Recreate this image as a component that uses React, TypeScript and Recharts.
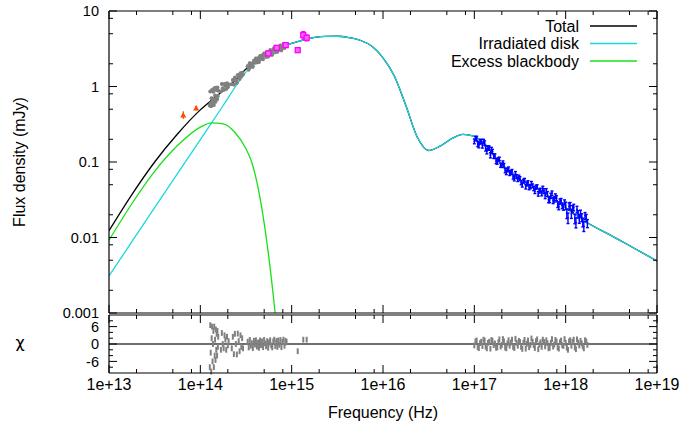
import React from 'react';
import { ComposedChart, Line, Scatter, XAxis, YAxis, ErrorBar, ReferenceLine } from 'recharts';

const FONT = '"Liberation Sans", Arial, Helvetica, sans-serif';
const FS = 16;

// axis ticks
const xMajor = [1e13, 1e14, 1e15, 1e16, 1e17, 1e18, 1e19];
const xLabels = ['1e+13', '1e+14', '1e+15', '1e+16', '1e+17', '1e+18', '1e+19'];
const xMinor = [2e13, 5e13, 8e13, 2e14, 5e14, 8e14, 2e15, 5e15, 8e15, 2e16, 5e16, 8e16, 2e17, 5e17, 8e17, 2e18, 5e18, 8e18];
const yMajor = [0.001, 0.01, 0.1, 1, 10];
const yLabels = ['0.001', '0.01', '0.1', '1', '10'];
const yMinor = [0.002, 0.005, 0.008, 0.02, 0.05, 0.08, 0.2, 0.5, 0.8, 2, 5, 8];
const chiMajor = [-6, 0, 6];
const chiLabels = ['-6', '0', '6'];
const chiMinor = [-8, -4, -2, 2, 4, 8];

// model: total
const totalFreq = [1e13, 1.78e13, 3.16e13, 5.62e13, 1e14, 1.33e14, 1.78e14, 2.37e14, 3.16e14, 4.22e14, 5.62e14, 7.5e14, 1e15, 1.33e15, 1.78e15, 2.37e15, 3.16e15, 4.22e15, 5.62e15, 7.5e15, 1e16, 1.33e16, 1.78e16, 2.37e16, 3.16e16, 4.22e16, 5.62e16, 7.5e16, 1e17, 1.33e17, 1.78e17, 2.37e17, 3.16e17, 5.62e17, 1e18, 1.78e18, 3.16e18, 5.62e18, 1e19];
const totalFlux = [0.0123, 0.037, 0.1, 0.235, 0.49, 0.66, 0.88, 1.18, 1.7, 2.25, 2.78, 3.25, 3.72, 4.12, 4.47, 4.62, 4.63, 4.45, 4.1, 3.43, 2.4, 1.38, 0.56, 0.214, 0.142, 0.162, 0.203, 0.232, 0.218, 0.168, 0.107, 0.076, 0.0575, 0.0398, 0.0248, 0.0153, 0.0106, 0.0072, 0.0049];

// model: irradiated disk
const diskFreq = [1e13, 1.78e13, 3.16e13, 5.62e13, 1e14, 1.78e14, 3.16e14, 4.22e14, 5.62e14, 7.5e14, 1e15, 1.33e15, 1.78e15, 2.37e15, 3.16e15, 4.22e15, 5.62e15, 7.5e15, 1e16, 1.33e16, 1.78e16, 2.37e16, 3.16e16, 4.22e16, 5.62e16, 7.5e16, 1e17, 1.33e17, 1.78e17, 2.37e17, 3.16e17, 5.62e17, 1e18, 1.78e18, 3.16e18, 5.62e18, 1e19];
const diskFlux = [0.0031, 0.0088, 0.0248, 0.07, 0.198, 0.56, 1.55, 2.15, 2.75, 3.25, 3.72, 4.12, 4.47, 4.62, 4.63, 4.45, 4.1, 3.43, 2.4, 1.38, 0.56, 0.214, 0.142, 0.162, 0.203, 0.232, 0.218, 0.168, 0.107, 0.076, 0.0575, 0.0398, 0.0248, 0.0153, 0.0106, 0.0072, 0.0049];

// model: excess blackbody
const bbFreq = [1e13, 1.78e13, 3.16e13, 5.62e13, 1e14, 1.33e14, 1.78e14, 2.37e14, 3.16e14, 3.65e14, 4.22e14, 4.87e14, 5.62e14, 6.49e14, 7.5e14];
const bbFlux = [0.0092, 0.028, 0.075, 0.165, 0.29, 0.33, 0.32, 0.25, 0.15, 0.1, 0.05, 0.019, 0.0055, 0.0012, 0.0002];

// near-IR photometry (red)
const nirFreq = [6.5e13, 9.0e13];
const nirFlux = [0.42, 0.52];
const nirErr = [0.05, 0.035];

// optical / IR spectra (grey)
const irFreq = [
  1.27e14, 1.285e14, 1.3e14, 1.315e14, 1.33e14, 1.345e14, 1.36e14, 1.375e14, 1.39e14, 1.405e14, 1.42e14, 1.435e14, 1.45e14, 1.465e14, 1.48e14, 1.495e14, 1.51e14, 1.525e14, 1.54e14, 1.555e14, 1.57e14,
  1.68e14, 1.72e14, 1.76e14, 1.8e14, 1.84e14, 1.88e14, 1.92e14, 1.96e14, 2.0e14, 2.04e14,
  2.21e14, 2.27e14, 2.33e14, 2.39e14, 2.45e14, 2.51e14, 2.57e14, 2.63e14, 2.69e14, 2.75e14, 2.81e14, 2.87e14, 2.93e14,
  3.3e14, 3.39e14, 3.48e14, 3.57e14, 3.66e14, 3.76e14, 3.86e14, 3.96e14, 4.06e14, 4.17e14, 4.28e14, 4.39e14, 4.5e14, 4.62e14, 4.74e14, 4.86e14, 4.99e14, 5.12e14, 5.25e14, 5.39e14,
  5.53e14, 5.67e14, 5.82e14, 5.97e14, 6.13e14, 6.29e14, 6.45e14, 6.62e14, 6.79e14, 6.97e14, 7.15e14, 7.34e14, 7.53e14, 7.73e14, 7.93e14, 8.14e14, 8.35e14, 8.57e14, 8.79e14,
];
const irFlux = [
  0.56, 0.86, 0.6, 0.55, 0.7, 0.9, 0.6, 0.67, 0.85, 0.57, 0.95, 0.64, 0.76, 0.63, 0.96, 0.7, 0.9, 0.68, 0.97, 0.75, 0.88,
  0.86, 1.08, 0.95, 0.9, 1.08, 1.02, 0.93, 1.1, 0.98, 1.06,
  1.07, 1.22, 1.06, 1.32, 1.21, 1.12, 1.42, 1.35, 1.26, 1.5, 1.36, 1.52, 1.44,
  1.85, 1.69, 2.03, 1.84, 2.0, 1.84, 2.2, 2.09, 2.34, 2.1, 2.34, 2.13, 2.52, 2.34, 2.57, 2.32, 2.74, 2.6, 2.49, 2.83,
  2.51, 2.86, 3.02, 2.75, 2.66, 3.08, 3.23, 2.87, 3.11, 2.9, 3.34, 3.1, 3.48, 3.04, 3.43, 3.64, 3.27, 3.66, 3.65,
];
const irErr = [
  0.03, 0.03, 0.03, 0.03, 0.03, 0.03, 0.03, 0.03, 0.03, 0.03, 0.03, 0.03, 0.03, 0.03, 0.03, 0.03, 0.03, 0.03, 0.03, 0.03, 0.03,
  0.04, 0.04, 0.04, 0.04, 0.04, 0.04, 0.04, 0.04, 0.04, 0.04,
  0.05, 0.05, 0.05, 0.05, 0.05, 0.05, 0.05, 0.05, 0.05, 0.05, 0.05, 0.05, 0.05,
  0.11, 0.11, 0.11, 0.11, 0.12, 0.12, 0.12, 0.13, 0.13, 0.13, 0.14, 0.14, 0.14, 0.14, 0.15, 0.15, 0.15, 0.15, 0.16, 0.16,
  0.16, 0.17, 0.17, 0.17, 0.17, 0.18, 0.18, 0.18, 0.18, 0.18, 0.19, 0.19, 0.19, 0.2, 0.2, 0.2, 0.2, 0.21, 0.21,
];
const irChi = [
  -8, 6.5, -3, -9.5, 2, 6, -6, 0, 4.5, -8, 6, -4, 1.5, -5.5, 5, -2, 3.5, -4, 4.5, -1, 2.5,
  -2, 3.8, 0, -1.5, 3, 1.5, -2, 2.5, -0.5, 1,
  -1.5, 2.5, -3.5, 3.5, 0, -3.6, 3.6, 1, -2.5, 3, -1, 2, -1.5,
  0.8, -1.2, 1.4, -0.6, 0.3, -1.4, 1.1, -0.2, 1.3, -0.9, 0.5, -1.3, 1.2, -0.4, 0.9, -1.1, 1.4, 0.2, -0.8, 1.0,
  -1.3, 0.6, 1.3, -0.5, -1.2, 0.9, 1.5, -0.7, 0.4, -1.0, 1.2, -0.3, 1.4, -1.1, 0.7, 1.5, -0.6, 1.1, 0.8,
];

// UV photometry (magenta)
const uvFreq = [5.55e14, 6.85e14, 8.6e14, 1.165e15, 1.34e15, 1.46e15];
const uvFlux = [2.74, 3.25, 3.53, 3.03, 4.8, 4.42];
const uvErr = [0.12, 0.14, 0.15, 0.2, 0.55, 0.4];
const uvChi = [0.1, 1.1, 0.5, -2.5, 1.5, 1.5];

// X-ray spectrum (blue)
const xrFreq = [
  1.0e17, 1.06e17, 1.12e17, 1.19e17, 1.26e17, 1.33e17, 1.41e17, 1.5e17, 1.58e17, 1.68e17,
  1.78e17, 1.88e17, 2.0e17, 2.11e17, 2.24e17, 2.37e17, 2.51e17, 2.66e17, 2.82e17, 2.99e17,
  3.16e17, 3.35e17, 3.55e17, 3.76e17, 3.98e17, 4.22e17, 4.47e17, 4.73e17, 5.01e17, 5.31e17,
  5.62e17, 5.96e17, 6.31e17, 6.68e17, 7.08e17, 7.5e17, 7.94e17, 8.41e17, 8.91e17, 9.44e17,
  1.0e18, 1.06e18, 1.12e18, 1.19e18, 1.26e18, 1.33e18, 1.41e18, 1.5e18, 1.58e18, 1.68e18,
  1.03e17, 1.09e17, 1.155e17, 1.225e17, 1.295e17, 1.37e17, 1.455e17, 1.54e17, 1.63e17, 1.73e17,
  1.83e17, 1.94e17, 2.055e17, 2.175e17, 2.305e17, 2.44e17, 2.585e17, 2.74e17, 2.905e17, 3.075e17,
  3.255e17, 3.45e17, 3.655e17, 3.87e17, 4.1e17, 4.345e17, 4.6e17, 4.87e17, 5.16e17, 5.465e17,
  5.79e17, 6.135e17, 6.495e17, 6.88e17, 7.29e17, 7.72e17, 8.175e17, 8.66e17, 9.175e17, 9.72e17,
  1.03e18, 1.09e18, 1.155e18, 1.225e18, 1.295e18, 1.37e18, 1.455e18, 1.54e18, 1.63e18, 1.73e18,
];
const xrFlux = [
  0.188, 0.206, 0.167, 0.188, 0.188, 0.151, 0.154, 0.123, 0.138, 0.12,
  0.1, 0.11, 0.09, 0.0906, 0.0728, 0.0814, 0.0731, 0.0635, 0.0709, 0.0588,
  0.0604, 0.0498, 0.0575, 0.0513, 0.0458, 0.0524, 0.0444, 0.0466, 0.0379, 0.0425,
  0.0446, 0.0358, 0.0377, 0.0317, 0.0386, 0.032, 0.0332, 0.0257, 0.0307, 0.0251,
  0.0264, 0.0182, 0.0264, 0.0238, 0.0177, 0.0235, 0.0177, 0.0184, 0.0141, 0.0182,
  0.205, 0.173, 0.185, 0.165, 0.179, 0.139, 0.153, 0.147, 0.12, 0.103,
  0.108, 0.0908, 0.0981, 0.077, 0.0786, 0.0706, 0.0754, 0.0602, 0.064, 0.0634,
  0.0533, 0.0558, 0.047, 0.0536, 0.0471, 0.0484, 0.0409, 0.0473, 0.0412, 0.038,
  0.0412, 0.0414, 0.0318, 0.0358, 0.0308, 0.0353, 0.0273, 0.0301, 0.0264, 0.0294,
  0.0208, 0.0259, 0.0206, 0.025, 0.0158, 0.0204, 0.0208, 0.0159, 0.0194, 0.0154,
];
const xrErr = [
  0.0137, 0.0133, 0.013, 0.0125, 0.0119, 0.0113, 0.0105, 0.0097, 0.009, 0.0083,
  0.0065, 0.006, 0.0055, 0.0052, 0.0048, 0.0045, 0.0043, 0.0041, 0.0038, 0.0037,
  0.0035, 0.0033, 0.0032, 0.0031, 0.0029, 0.0028, 0.0027, 0.0026, 0.0026, 0.0025,
  0.0032, 0.0031, 0.0029, 0.0028, 0.0027, 0.0026, 0.0025, 0.0024, 0.0022, 0.0021,
  0.003, 0.0029, 0.0027, 0.0026, 0.0025, 0.0024, 0.0023, 0.0022, 0.0021, 0.002,
  0.0135, 0.0131, 0.0127, 0.0122, 0.0116, 0.0109, 0.0101, 0.0093, 0.0086, 0.0079,
  0.0062, 0.0058, 0.0053, 0.005, 0.0047, 0.0044, 0.0042, 0.0039, 0.0038, 0.0036,
  0.0034, 0.0033, 0.0031, 0.003, 0.0029, 0.0028, 0.0027, 0.0026, 0.0025, 0.0024,
  0.0031, 0.003, 0.0029, 0.0028, 0.0027, 0.0025, 0.0024, 0.0023, 0.0022, 0.0021,
  0.003, 0.0028, 0.0027, 0.0025, 0.0024, 0.0023, 0.0022, 0.0021, 0.002, 0.0019,
];
const xrChi = [
  -0.5, 1.2, -1.4, 0.8, 1.5, -0.9, 0.4, -1.6, 1.1, 0.2,
  -1.2, 1.6, -0.3, 0.9, -1.5, 1.3, 0.5, -1.0, 1.8, -0.6,
  0.7, -1.7, 1.4, 0.1, -1.1, 1.9, -0.4, 1.0, -1.8, 0.6,
  1.5, -0.8, 0.3, -1.3, 1.7, -0.2, 0.9, -1.6, 1.2, -0.7,
  0.4, -2.0, 1.3, 0.8, -1.2, 1.6, -0.5, 0.2, -1.5, 0.9,
  0.9, -1.1, 0.3, -0.7, 1.2, -1.5, 0.8, 1.4, -0.4, -1.3,
  0.6, -0.9, 1.7, -1.2, 0.2, -0.6, 1.5, -1.4, 0.4, 1.1,
  -1.0, 0.5, -1.6, 1.2, -0.3, 0.8, -1.4, 1.6, -0.2, -1.0,
  0.7, 1.3, -1.5, 0.4, -0.9, 1.4, -1.2, 0.6, -0.4, 1.7,
  -1.3, 0.9, -0.6, 1.5, -1.8, 0.5, 1.1, -0.8, 1.3, -0.3,
];

const pts = (fs: number[], vs: number[], es?: number[]) =>
  fs.map((f, i) => ({ f, v: vs[i], e: es ? es[i] : 0 }));
const resid = (fs: number[], cs: number[]) => fs.map((f, i) => ({ f, v: cs[i], e: 1 }));

const totalData = pts(totalFreq, totalFlux);
const diskData = pts(diskFreq, diskFlux);
const bbData = pts(bbFreq, bbFlux);
const nirData = pts(nirFreq, nirFlux, nirErr);
const irData = pts(irFreq, irFlux, irErr);
const uvData = pts(uvFreq, uvFlux, uvErr);
const xrData = pts(xrFreq, xrFlux, xrErr);
const residData = [...resid(irFreq, irChi), ...resid(uvFreq, uvChi), ...resid(xrFreq, xrChi)];

const xTicks = [...xMajor, ...xMinor].sort((a, b) => a - b);
const yTicks = [...yMajor, ...yMinor].sort((a, b) => a - b);
const chiTicks = [...chiMajor, ...chiMinor].sort((a, b) => a - b);

const txt = { fontFamily: FONT, fontSize: FS, fill: '#000' };

const XTick = ({ x, y, payload, dir, showLabel }: any) => {
  const i = xMajor.indexOf(payload.value);
  const len = i >= 0 ? 8 : 4;
  return (
    <g>
      <line x1={x} x2={x} y1={y} y2={y + dir * len} stroke="#000" strokeWidth={1} />
      {showLabel && i >= 0 && (
        <text x={x} y={y + 17} textAnchor="middle" {...txt}>{xLabels[i]}</text>
      )}
    </g>
  );
};

const YTick = ({ x, y, payload, dir, major, labels }: any) => {
  const i = major.indexOf(payload.value);
  const len = i >= 0 ? 8 : 4;
  return (
    <g>
      <line x1={x} x2={x + dir * len} y1={y} y2={y} stroke="#000" strokeWidth={1} />
      {labels && i >= 0 && (
        <text x={x - 10} y={y} dy="0.36em" textAnchor="end" {...txt} fontSize={14.5}>{labels[i]}</text>
      )}
    </g>
  );
};

const dot = (color: string, r: number) => (p: any) => <circle cx={p.cx} cy={p.cy} r={r} fill={color} />;
const none = () => <g />;
const square = (p: any) => <rect x={p.cx - 2.5} y={p.cy - 2.5} width={5} height={5} fill="#ff66ff" stroke="#ff00ff" strokeWidth={1.3} />;
const tri = (p: any) => <path d={`M${p.cx},${p.cy - 3} L${p.cx + 3},${p.cy + 2.5} L${p.cx - 3},${p.cy + 2.5} Z`} fill="#ff4a00" />;

const axisLine = { stroke: '#000', strokeWidth: 1.2 };

export default function App() {
  return (
    <div style={{ position: 'absolute', left: 0, top: 0, width: 699, height: 425, background: '#fff' }}>
      <div style={{ position: 'absolute', left: 0, top: 0 }}>
        <ComposedChart width={699} height={330} margin={{ top: 10, right: 41, bottom: 16, left: 0 }}>
          <XAxis xAxisId="b" dataKey="f" type="number" scale="log" domain={[1e13, 1e19]} allowDataOverflow ticks={xTicks} interval={0}
            height={1} tickSize={0} tickMargin={0} tickLine={false} axisLine={axisLine}
            tick={(p: any) => <XTick {...p} dir={-1} showLabel={false} />} />
          <XAxis xAxisId="t" orientation="top" dataKey="f" type="number" scale="log" domain={[1e13, 1e19]} allowDataOverflow ticks={xTicks} interval={0}
            height={1} tickSize={0} tickMargin={0} tickLine={false} axisLine={axisLine}
            tick={(p: any) => <XTick {...p} dir={1} showLabel={false} />} />
          <YAxis yAxisId="l" dataKey="v" type="number" scale="log" domain={[0.001, 10]} allowDataOverflow ticks={yTicks} interval={0}
            width={109} tickSize={0} tickMargin={0} tickLine={false} axisLine={axisLine}
            tick={(p: any) => <YTick {...p} dir={1} major={yMajor} labels={yLabels} />} />
          <YAxis yAxisId="r" orientation="right" dataKey="v" type="number" scale="log" domain={[0.001, 10]} allowDataOverflow ticks={yTicks} interval={0}
            width={1} tickSize={0} tickMargin={0} tickLine={false} axisLine={axisLine}
            tick={(p: any) => <YTick {...p} dir={-1} major={yMajor} />} />
          <Line xAxisId="b" yAxisId="l" data={totalData} dataKey="v" type="monotone" stroke="#000" strokeWidth={1.3} dot={false} isAnimationActive={false} />
          <Line xAxisId="b" yAxisId="l" data={diskData} dataKey="v" type="monotone" stroke="#1ad8e0" strokeWidth={1.3} dot={false} isAnimationActive={false} />
          <Line xAxisId="b" yAxisId="l" data={bbData} dataKey="v" type="monotone" stroke="#18e018" strokeWidth={1.3} dot={false} isAnimationActive={false} />
          <Scatter xAxisId="b" yAxisId="l" data={irData} dataKey="v" shape={dot('#808080', 2)} isAnimationActive={false}>
            <ErrorBar dataKey="e" direction="y" width={0} stroke="#808080" strokeWidth={2.2} />
          </Scatter>
          <Scatter xAxisId="b" yAxisId="l" data={nirData} dataKey="v" shape={tri} isAnimationActive={false}>
            <ErrorBar dataKey="e" direction="y" width={0} stroke="#ff4a00" strokeWidth={1.2} />
          </Scatter>
          <Scatter xAxisId="b" yAxisId="l" data={uvData} dataKey="v" shape={square} isAnimationActive={false}>
            <ErrorBar dataKey="e" direction="y" width={2} stroke="#ff00ff" strokeWidth={1.2} />
          </Scatter>
          <Scatter xAxisId="b" yAxisId="l" data={xrData} dataKey="v" shape={dot('#0000ff', 0.9)} isAnimationActive={false}>
            <ErrorBar dataKey="e" direction="y" width={1.5} stroke="#0000ff" strokeWidth={1.4} />
          </Scatter>
        </ComposedChart>
      </div>
      <div style={{ position: 'absolute', left: 0, top: 300 }}>
        <ComposedChart width={699} height={125} margin={{ top: 14, right: 41, bottom: 0, left: 0 }}>
          <XAxis xAxisId="b" dataKey="f" type="number" scale="log" domain={[1e13, 1e19]} allowDataOverflow ticks={xTicks} interval={0}
            height={52} tickSize={0} tickMargin={0} tickLine={false} axisLine={axisLine}
            tick={(p: any) => <XTick {...p} dir={-1} showLabel />} />
          <XAxis xAxisId="t" orientation="top" dataKey="f" type="number" scale="log" domain={[1e13, 1e19]} allowDataOverflow ticks={xTicks} interval={0}
            height={1} tickSize={0} tickMargin={0} tickLine={false} axisLine={axisLine}
            tick={(p: any) => <XTick {...p} dir={1} showLabel={false} />} />
          <YAxis yAxisId="l" dataKey="v" type="number" domain={[-10, 10]} allowDataOverflow ticks={chiTicks} interval={0}
            width={109} tickSize={0} tickMargin={0} tickLine={false} axisLine={axisLine}
            tick={(p: any) => <YTick {...p} dir={1} major={chiMajor} labels={chiLabels} />} />
          <YAxis yAxisId="r" orientation="right" dataKey="v" type="number" domain={[-10, 10]} allowDataOverflow ticks={chiTicks} interval={0}
            width={1} tickSize={0} tickMargin={0} tickLine={false} axisLine={axisLine}
            tick={(p: any) => <YTick {...p} dir={-1} major={chiMajor} />} />
          <ReferenceLine xAxisId="b" yAxisId="l" y={0} stroke="#404040" strokeWidth={1.3} />
          <Scatter xAxisId="b" yAxisId="l" data={residData} dataKey="v" shape={none} isAnimationActive={false}>
            <ErrorBar dataKey="e" direction="y" width={0} stroke="#808080" strokeWidth={2} />
          </Scatter>
        </ComposedChart>
      </div>
      <svg width={699} height={425} style={{ position: 'absolute', left: 0, top: 0, pointerEvents: 'none' }}>
        <text x={0} y={0} transform="translate(25,162) rotate(-90)" textAnchor="middle" {...txt}>Flux density (mJy)</text>
        <text x={20} y={348} textAnchor="middle" fontFamily='"DejaVu Sans", sans-serif' fontSize={16} fill="#000">χ</text>
        <text x={383} y={418} textAnchor="middle" {...txt}>Frequency (Hz)</text>
        <text x={579} y={31.5} textAnchor="end" {...txt}>Total</text>
        <line x1={590} x2={637} y1={26} y2={26} stroke="#000" strokeWidth={1.3} />
        <text x={579} y={49} textAnchor="end" {...txt}>Irradiated disk</text>
        <line x1={590} x2={637} y1={43.5} y2={43.5} stroke="#1ad8e0" strokeWidth={1.3} />
        <text x={579} y={66.5} textAnchor="end" {...txt}>Excess blackbody</text>
        <line x1={590} x2={637} y1={61} y2={61} stroke="#18e018" strokeWidth={1.3} />
      </svg>
    </div>
  );
}
